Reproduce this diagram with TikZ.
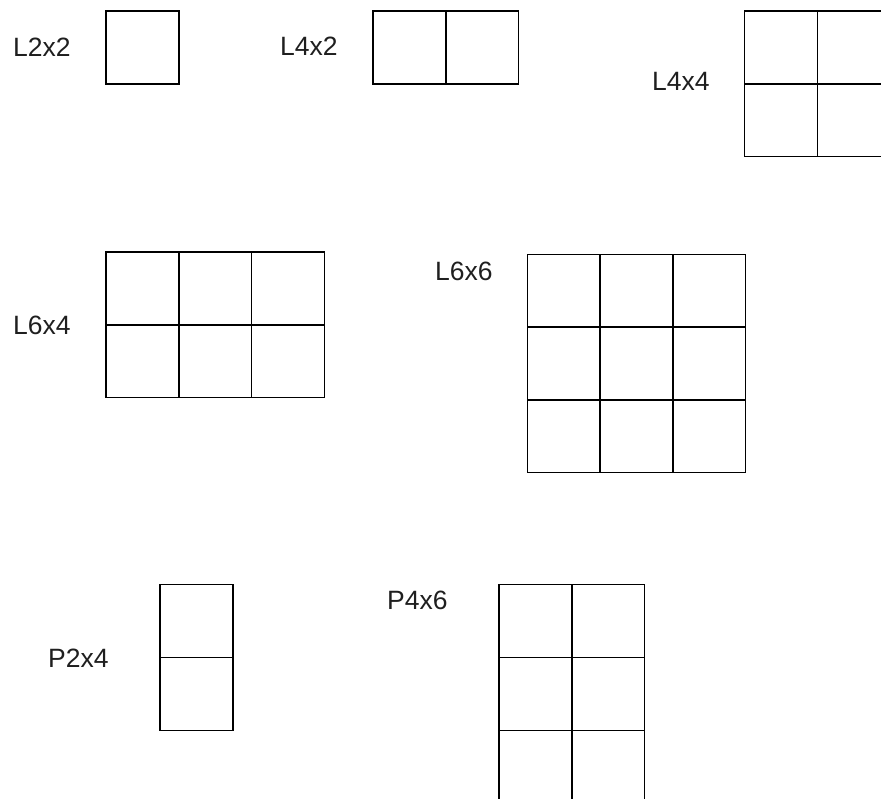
\documentclass[tikz,border=0pt]{standalone}
\usepackage{fontspec}
\setmainfont{Liberation Sans}
\newcommand\mygrid[4]{%
  \draw[gridline] (#1,#2) rectangle ({#1+#3*72.8},{#2+#4*72.8});
  \foreach \i in {1,...,#3}{\ifnum\i<#3\relax\draw[gridline] ({#1+\i*72.8},#2) -- ({#1+\i*72.8},{#2+#4*72.8});\fi}
  \foreach \j in {1,...,#4}{\ifnum\j<#4\relax\draw[gridline] (#1,{#2+\j*72.8}) -- ({#1+#3*72.8},{#2+\j*72.8});\fi}
}
\begin{document}
\begin{tikzpicture}[x=1pt,y=-1pt,
  gridline/.style={draw=black,line width=1.4pt},
  lbl/.style={anchor=west,inner sep=0pt,font=\fontsize{26.5}{30}\selectfont,text=black!88}]
\clip (0,0) rectangle (881,798);
\fill[white] (0,0) rectangle (881,798);
% labels
\node[lbl] (tL22) at (13,47) {L2x2};
\node[lbl] (tL42) at (280,46) {L4x2};
\node[lbl] (tL44) at (652,81) {L4x4};
\node[lbl] (tL64) at (13,325) {L6x4};
\node[lbl] (tL66) at (435,271.5) {L6x6};
\node[lbl] (tP24) at (48,658.5) {P2x4};
\node[lbl] (tP46) at (387,600) {P4x6};
% grids
\mygrid{106}{11}{1}{1}
\mygrid{373}{11}{2}{1}
\mygrid{744.5}{11}{2}{2}
\mygrid{106}{252}{3}{2}
\mygrid{527.3}{254.3}{3}{3}
\mygrid{160}{584.7}{1}{2}
\mygrid{499}{584.7}{2}{3}
\end{tikzpicture}
\end{document}
